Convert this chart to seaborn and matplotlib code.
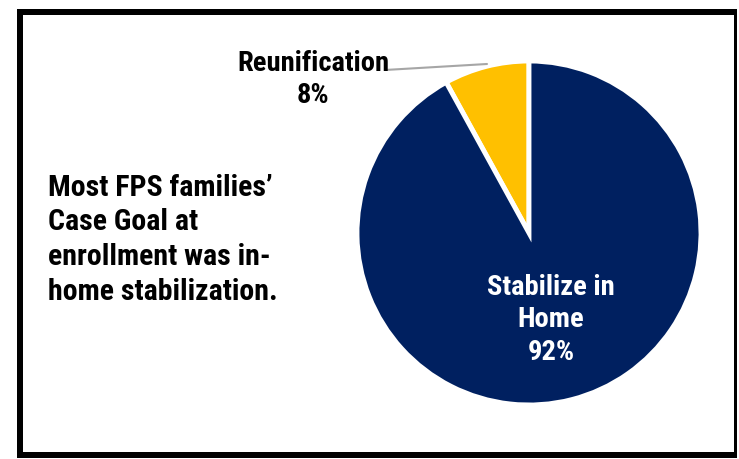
import matplotlib
matplotlib.use("Agg")
import matplotlib.pyplot as plt
import matplotlib.patches as mpatches
import seaborn as sns

# Case goal at enrollment for FPS families
categories = ["Reunification", "Stabilize in Home"]
shares = [8, 92]
colors = ["#FFC000", "#002060"]
summary_lines = ["Most FPS families\u2019", "Case Goal at",
                 "enrollment was in-", "home stabilization."]

sns.set_theme(style="white")
plt.rcParams["font.family"] = ["Roboto Condensed", "DejaVu Sans"]
plt.rcParams["font.stretch"] = "condensed"

W, H = 739, 459
fig = plt.figure(figsize=(W / 100, H / 100), dpi=100)
fig.patch.set_facecolor("white")


def fx(px):
    return px / W


def fy(py):
    return 1 - py / H


# outer frame
frame = [
    (17, 9, 720, 6),     # top
    (17, 9, 6, 449),     # left
    (17, 452, 720, 6),   # bottom
    (734, 9, 3, 449),    # right
]
for x, y, w, h in frame:
    fig.patches.append(mpatches.Rectangle((fx(x), fy(y + h)), w / W, h / H,
                                          transform=fig.transFigure,
                                          facecolor="black", edgecolor="none"))

# pie
cx, cy, r = 529, 233, 172
ax = fig.add_axes([fx(cx - r), fy(cy + r), 2 * r / W, 2 * r / H])
ax.pie(shares, colors=colors, startangle=90, counterclock=True,
       wedgeprops=dict(edgecolor="white", linewidth=3.5))
ax.set_xlim(-1, 1)
ax.set_ylim(-1, 1)
ax.axis("off")


def dx(px):
    return (px - cx) / r


def dy(py):
    return (cy - py) / r


# leader line for the small slice
ax.plot([dx(385), dx(487)], [dy(70), dy(64)], color="#A6A6A6", lw=1.5,
        clip_on=False)

ax.text(dx(313), dy(71), categories[0], ha="center", va="baseline",
        fontsize=20.5, fontweight="bold", color="black", clip_on=False)
ax.text(dx(313), dy(103), f"{shares[0]}%", ha="center", va="baseline",
        fontsize=20.5, fontweight="bold", color="black", clip_on=False)

inner = ["Stabilize in", "Home", f"{shares[1]}%"]
for line, base in zip(inner, [295, 327, 360]):
    ax.text(dx(551), dy(base), line, ha="center", va="baseline",
            fontsize=20.5, fontweight="bold", color="white")

# summary statement on the left
for line, base in zip(summary_lines, [196, 230, 265, 300]):
    fig.text(fx(48), fy(base), line, ha="left", va="baseline",
             fontsize=21.5, fontweight="bold", color="black")

fig.savefig("out.png", dpi=100, facecolor="white")
